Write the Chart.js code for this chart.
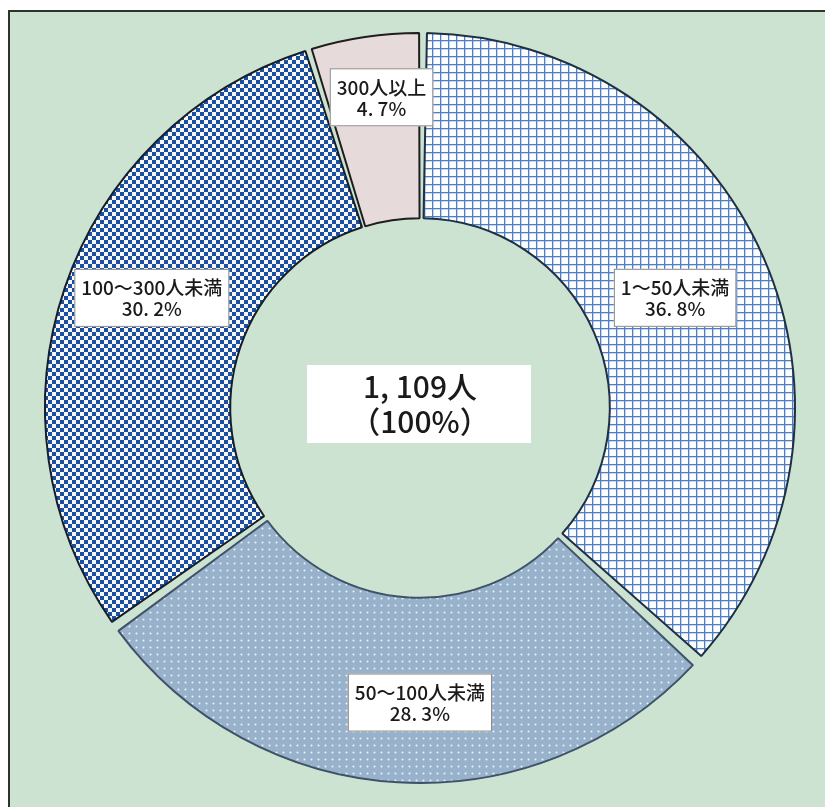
<!DOCTYPE html>
<html lang="ja">
<head>
<meta charset="utf-8">
<script src="https://cdn.jsdelivr.net/npm/chart.js@4/dist/chart.umd.min.js"></script>
<style>
  html, body { margin: 0; padding: 0; background: #fff; overflow: hidden; }
  #wrap { position: absolute; left: 0; top: 0; width: 825px; height: 807px; }
</style>
</head>
<body>
<div id="wrap"><canvas id="donut"></canvas></div>
<script>
// data
const categories = ["1～50人未満", "50～100人未満", "100～300人未満", "300人以上"];
const shares = [36.8, 28.3, 30.2, 4.7];
const shareLabels = ["36. 8%", "28. 3%", "30. 2%", "4. 7%"];
const totalLabel = "1, 109人";
const totalShare = "（100%）";

// label placement: depth across the ring (0 inner .. 1 outer) and a small turn in degrees
const labelDepth = [0.5, 0.59, 0.565, 0.69];
const labelTurn = [0.4, -3.4, 3.6, 1.4];

function tile(size, paint) {
  const c = document.createElement("canvas");
  c.width = size; c.height = size;
  const g = c.getContext("2d");
  paint(g, size);
  return g.createPattern(c, "repeat");
}

const gridFill = tile(8, (g, s) => {
  g.fillStyle = "#fbfdff"; g.fillRect(0, 0, s, s);
  g.fillStyle = "#4f7fc2";
  g.fillRect(0, 0, s, 1.3);
  g.fillRect(0, 0, 1.3, s);
});
const dotFill = tile(7, (g, s) => {
  g.fillStyle = "#98b2cb"; g.fillRect(0, 0, s, s);
  g.fillStyle = "#eef4fa";
  g.beginPath(); g.arc(3.5, 3.5, 1, 0, Math.PI * 2); g.fill();
});
const checkFill = tile(8, (g, s) => {
  g.fillStyle = "#f6f8fc"; g.fillRect(0, 0, s, s);
  g.fillStyle = "#1c4f9f";
  g.fillRect(0, 0, 4, 4);
  g.fillRect(4, 4, 4, 4);
});
const pinkFill = "#e7dada";

const panel = {
  id: "panel",
  beforeDraw(chart) {
    const ctx = chart.ctx;
    ctx.save();
    ctx.fillStyle = "#ffffff";
    ctx.fillRect(0, 0, chart.width, chart.height);
    ctx.fillStyle = "#cde3d2";
    ctx.fillRect(8, 10, chart.width, chart.height);
    ctx.strokeStyle = "#2b3530";
    ctx.lineWidth = 2;
    ctx.beginPath();
    ctx.moveTo(9, chart.height);
    ctx.lineTo(9, 11);
    ctx.lineTo(chart.width, 11);
    ctx.stroke();
    ctx.restore();
  }
};

const ringLabels = {
  id: "ringLabels",
  afterDatasetsDraw(chart) {
    const ctx = chart.ctx;
    const arcs = chart.getDatasetMeta(0).data;
    ctx.save();
    ctx.font = '500 19px "Noto Sans CJK JP"';
    ctx.textAlign = "center";
    ctx.textBaseline = "middle";
    arcs.forEach((arc, i) => {
      const p = arc.getProps(["x", "y", "startAngle", "endAngle", "innerRadius", "outerRadius"], true);
      const a = (p.startAngle + p.endAngle) / 2 + labelTurn[i] * Math.PI / 180;
      const r = p.innerRadius + (p.outerRadius - p.innerRadius) * labelDepth[i];
      const cx = p.x + Math.cos(a) * r;
      const cy = p.y + Math.sin(a) * r;
      const w = Math.max(ctx.measureText(categories[i]).width, ctx.measureText(shareLabels[i]).width) + 14;
      const h = 58;
      ctx.fillStyle = "#ffffff";
      ctx.fillRect(cx - w / 2, cy - h / 2, w, h);
      ctx.strokeStyle = "#8a8a8a";
      ctx.lineWidth = 1;
      ctx.strokeRect(cx - w / 2 + 0.5, cy - h / 2 + 0.5, w - 1, h - 1);
      ctx.fillStyle = "#1a1a1a";
      ctx.fillText(categories[i], cx, cy - 10);
      ctx.fillText(shareLabels[i], cx, cy + 11);
    });

    // centre box
    const c = arcs[0];
    ctx.fillStyle = "#ffffff";
    ctx.fillRect(c.x - 113, c.y - 43, 224, 78);
    ctx.fillStyle = "#1a1a1a";
    ctx.font = '500 30px "Noto Sans CJK JP"';
    ctx.fillText(totalLabel, c.x, c.y - 21);
    ctx.fillText(totalShare, c.x, c.y + 14);
    ctx.restore();
  }
};

new Chart(document.getElementById("donut"), {
  type: "doughnut",
  data: {
    labels: categories,
    datasets: [{
      data: shares,
      backgroundColor: [gridFill, dotFill, checkFill, pinkFill],
      borderColor: ["#1f2f45", "#3f5268", "#151e2a", "#1e1e1e"],
      borderWidth: 2,
      spacing: 9,
    }],
  },
  options: {
    responsive: true,
    maintainAspectRatio: false,
    animation: false,
    cutout: "50%",
    layout: { padding: { left: 44, right: 29, top: 32, bottom: 23 } },
    plugins: {
      legend: { display: false },
      tooltip: { enabled: false },
    },
  },
  plugins: [panel, ringLabels],
});
</script>
</body>
</html>
